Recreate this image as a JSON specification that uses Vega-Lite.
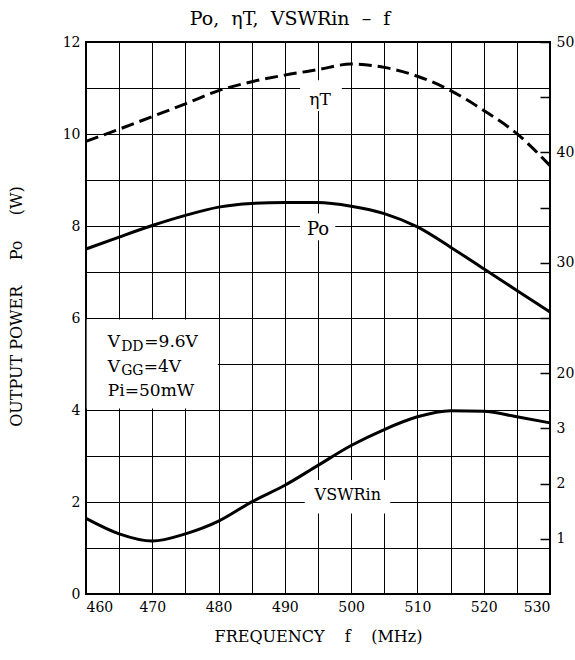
{
  "$schema": "https://vega.github.io/schema/vega-lite/v6.json",
  "width": 464,
  "height": 552,
  "autosize": {"type": "none"},
  "padding": {"left": 86, "top": 42, "right": 25, "bottom": 66},
  "background": "white",
  "title": {"text": "Po,\u00a0 ηT,\u00a0 VSWRin\u00a0 –\u00a0 f", "font": "DejaVu Serif", "fontSize": 19, "fontWeight": "normal", "color": "black", "offset": 6, "dx": -28, "anchor": "middle", "frame": "group"},
  "config": {
    "view": {"stroke": "black", "strokeWidth": 2},
    "font": "DejaVu Serif",
    "axis": {"labelFont": "DejaVu Serif", "labelFontSize": 14, "labelColor": "black", "titleFont": "DejaVu Serif", "titleFontSize": 16, "titleFontWeight": "normal", "titleColor": "black", "domain": false}
  },
  "datasets": {
    "po": [
      {"f": 460, "p": 7.50}, {"f": 465, "p": 7.76}, {"f": 470, "p": 8.01}, {"f": 475, "p": 8.23},
      {"f": 480, "p": 8.41}, {"f": 485, "p": 8.49}, {"f": 490, "p": 8.51}, {"f": 495, "p": 8.51},
      {"f": 500, "p": 8.43}, {"f": 505, "p": 8.27}, {"f": 510, "p": 7.98}, {"f": 515, "p": 7.54},
      {"f": 520, "p": 7.07}, {"f": 525, "p": 6.60}, {"f": 530, "p": 6.13}
    ],
    "eta": [
      {"f": 460, "e": 41.0}, {"f": 465, "e": 42.1}, {"f": 470, "e": 43.25}, {"f": 475, "e": 44.4},
      {"f": 480, "e": 45.6}, {"f": 485, "e": 46.4}, {"f": 490, "e": 47.0}, {"f": 495, "e": 47.5},
      {"f": 500, "e": 48.0}, {"f": 505, "e": 47.7}, {"f": 510, "e": 46.9}, {"f": 515, "e": 45.6},
      {"f": 520, "e": 43.8}, {"f": 525, "e": 41.7}, {"f": 530, "e": 38.8}
    ],
    "vswr": [
      {"f": 460, "v": 1.37}, {"f": 465, "v": 1.09}, {"f": 470, "v": 0.96}, {"f": 475, "v": 1.09},
      {"f": 480, "v": 1.32}, {"f": 485, "v": 1.67}, {"f": 490, "v": 1.97}, {"f": 495, "v": 2.33},
      {"f": 500, "v": 2.69}, {"f": 505, "v": 2.98}, {"f": 510, "v": 3.21}, {"f": 515, "v": 3.32},
      {"f": 520, "v": 3.31}, {"f": 525, "v": 3.21}, {"f": 530, "v": 3.10}
    ],
    "boxes": [
      {"f": 460.1, "f2": 479.9, "w": 4.03, "w2": 5.97},
      {"f": 492.3, "f2": 498.6, "w": 10.5, "w2": 11.17},
      {"f": 492.3, "f2": 497.6, "w": 7.69, "w2": 8.27},
      {"f": 493.0, "f2": 505.9, "w": 1.75, "w2": 2.48}
    ],
    "labels": [
      {"f": 495.3, "w": 10.73, "t": "ηT", "s": 17},
      {"f": 495.0, "w": 7.92, "t": "Po", "s": 18},
      {"f": 499.5, "w": 2.15, "t": "VSWRin", "s": 16}
    ],
    "legendMain": [
      {"f": 463.3, "w": 5.37, "t": "V"}, {"f": 468.8, "w": 5.37, "t": "=9.6V"},
      {"f": 463.3, "w": 4.83, "t": "V"}, {"f": 468.7, "w": 4.83, "t": "=4V"},
      {"f": 463.3, "w": 4.30, "t": "Pi=50mW"}
    ],
    "legendSub": [
      {"f": 465.3, "w": 5.29, "t": "DD"}, {"f": 465.3, "w": 4.76, "t": "GG"}
    ]
  },
  "encoding": {
    "x": {
      "field": "f", "type": "quantitative",
      "scale": {"domain": [460, 530], "nice": false, "zero": false},
      "axis": {
        "title": "FREQUENCY\u00a0\u00a0\u00a0 f\u00a0\u00a0\u00a0 (MHz)",
        "values": [460, 465, 470, 475, 480, 485, 490, 495, 500, 505, 510, 515, 520, 525, 530],
        "labelExpr": "datum.value % 10 == 0 ? datum.label : ''",
        "grid": true, "gridColor": "black", "gridWidth": 1, "gridOpacity": 1,
        "ticks": false, "labelPadding": 6, "titlePadding": 14
      }
    }
  },
  "layer": [
    {
      "data": {"name": "boxes"},
      "mark": {"type": "rect", "fill": "white", "stroke": null},
      "encoding": {
        "x2": {"field": "f2"},
        "y": {
          "field": "w", "type": "quantitative",
          "scale": {"domain": [0, 12], "nice": false},
          "axis": {
            "title": "OUTPUT POWER\u00a0\u00a0\u00a0\u00a0 Po\u00a0\u00a0\u00a0\u00a0 (W)",
            "orient": "left",
            "values": [0, 1, 2, 3, 4, 5, 6, 7, 8, 9, 10, 11, 12],
            "labelExpr": "datum.value % 2 == 0 ? datum.label : ''",
            "grid": true, "gridColor": "black", "gridWidth": 1, "gridOpacity": 1,
            "ticks": false, "labelPadding": 6, "titlePadding": 38, "titleY": 264
          }
        },
        "y2": {"field": "w2"}
      }
    },
    {
      "data": {"name": "po"},
      "mark": {"type": "line", "color": "black", "strokeWidth": 3, "interpolate": "monotone"},
      "encoding": {
        "y": {"field": "p", "type": "quantitative", "scale": {"domain": [0, 12], "nice": false}, "axis": null}
      }
    },
    {
      "data": {"name": "eta"},
      "mark": {"type": "line", "color": "black", "strokeWidth": 3, "strokeDash": [13, 6], "interpolate": "monotone"},
      "encoding": {
        "y": {
          "field": "e", "type": "quantitative",
          "scale": {"domain": [0, 50], "nice": false},
          "axis": {
            "orient": "right", "title": null,
            "values": [5, 10, 15, 20, 25, 30, 35, 40, 45, 50],
            "labelExpr": "datum.value <= 15 ? format(datum.value / 5, 'd') : (datum.value % 10 == 0 ? datum.label : '')",
            "grid": false, "ticks": true, "tickSize": -10, "tickColor": "black", "tickWidth": 1.5,
            "labelPadding": 16
          }
        }
      }
    },
    {
      "data": {"name": "vswr"},
      "mark": {"type": "line", "color": "black", "strokeWidth": 3, "interpolate": "monotone"},
      "encoding": {
        "y": {"field": "v", "type": "quantitative", "scale": {"domain": [0, 10], "nice": false}, "axis": null}
      }
    },
    {
      "data": {"name": "labels"},
      "mark": {"type": "text", "color": "black", "font": "DejaVu Serif", "align": "center", "baseline": "middle"},
      "encoding": {
        "y": {"field": "w", "type": "quantitative", "scale": {"domain": [0, 12], "nice": false}, "axis": null},
        "text": {"field": "t"},
        "size": {"field": "s", "type": "quantitative", "scale": null}
      }
    },
    {
      "data": {"name": "legendMain"},
      "mark": {"type": "text", "color": "black", "font": "DejaVu Serif", "fontSize": 17, "align": "left", "baseline": "alphabetic"},
      "encoding": {
        "y": {"field": "w", "type": "quantitative", "scale": {"domain": [0, 12], "nice": false}, "axis": null},
        "text": {"field": "t"}
      }
    },
    {
      "data": {"name": "legendSub"},
      "mark": {"type": "text", "color": "black", "font": "DejaVu Serif", "fontSize": 14, "align": "left", "baseline": "alphabetic"},
      "encoding": {
        "y": {"field": "w", "type": "quantitative", "scale": {"domain": [0, 12], "nice": false}, "axis": null},
        "text": {"field": "t"}
      }
    }
  ],
  "resolve": {"scale": {"y": "independent"}}
}
